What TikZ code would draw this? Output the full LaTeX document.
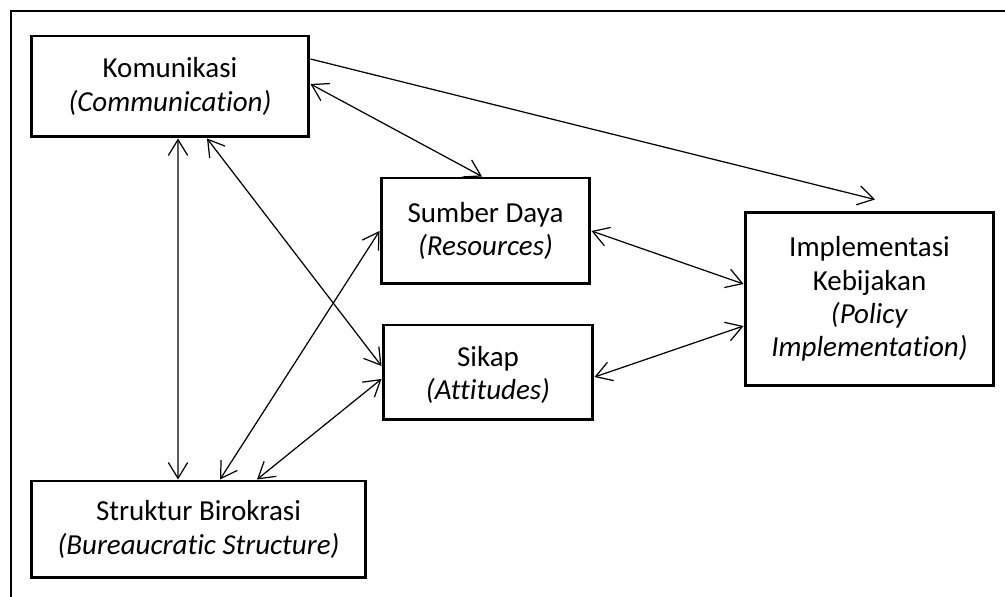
\documentclass[tikz,border=0pt]{standalone}
\usepackage{fontspec}
\setmainfont[Ligatures=NoCommon]{Carlito}
\usetikzlibrary{arrows.meta}

\tikzset{
  box/.style={draw, line width=1.7pt, align=center, inner sep=0pt,
    font=\fontsize{16.5}{18.9}\selectfont},
  frame/.style={line width=1.2pt},
  link/.style={line width=0.7pt,
    {Straight Barb[length=9pt,width=11pt]}-{Straight Barb[length=9pt,width=11pt]}},
  onelink/.style={line width=0.7pt, -{Straight Barb[length=9pt,width=11pt]}},
}

\begin{document}
\begin{tikzpicture}[x=0.02cm, y=-0.02cm]
  \useasboundingbox (0,0) rectangle (1005,597);
  % outer frame (cut at right and bottom)
  \draw[frame] (11,600) -- (11,11) -- (1008,11);

  % boxes
  \node[box, minimum width=5.56cm, minimum height=2.02cm] (kom) at (170,86.5)
    {Komunikasi\\\textit{(Communication)}};
  \node[box, minimum width=4.18cm, minimum height=2.12cm] (sum) at (485.5,231)
    {Sumber Daya\\\textit{(Resources)}};
  \node[box, minimum width=4.20cm, minimum height=1.90cm] (sik) at (488,372.5)
    {\rule{0pt}{14pt}Sikap\\\textit{(Attitudes)}};
  \node[box, minimum width=4.98cm, minimum height=3.48cm] (imp) at (869.5,299)
    {Implementasi\\Kebijakan\\\textit{(Policy}\\\textit{Implementation)}};
  \node[box, minimum width=6.70cm, minimum height=1.94cm] (str) at (198.5,529.5)
    {Struktur Birokrasi\\\textit{(Bureaucratic Structure)}};

  % connectors
  \draw[onelink] ([yshift=0.55cm]kom.east) -- ([xshift=0.11cm,yshift=0.22cm]imp.north);
  \draw[link] ([yshift=0.05cm]kom.east) -- ([xshift=-0.07cm]sum.north);
  \draw[link] ([xshift=0.16cm]kom.south) -- ([xshift=-0.41cm]str.north);
  \draw[link] ([xshift=0.74cm]kom.south) -- ([yshift=0.13cm]sik.west);
  \draw[link] ([xshift=0.43cm]str.north) -- (sum.west);
  \draw[link] ([xshift=1.17cm]str.north) -- ([yshift=-0.13cm]sik.west);
  \draw[link] (sum.east) -- ([yshift=0.30cm]imp.west);
  \draw[link] ([yshift=-0.09cm]sik.east) -- ([yshift=-0.54cm]imp.west);
\end{tikzpicture}
\end{document}
